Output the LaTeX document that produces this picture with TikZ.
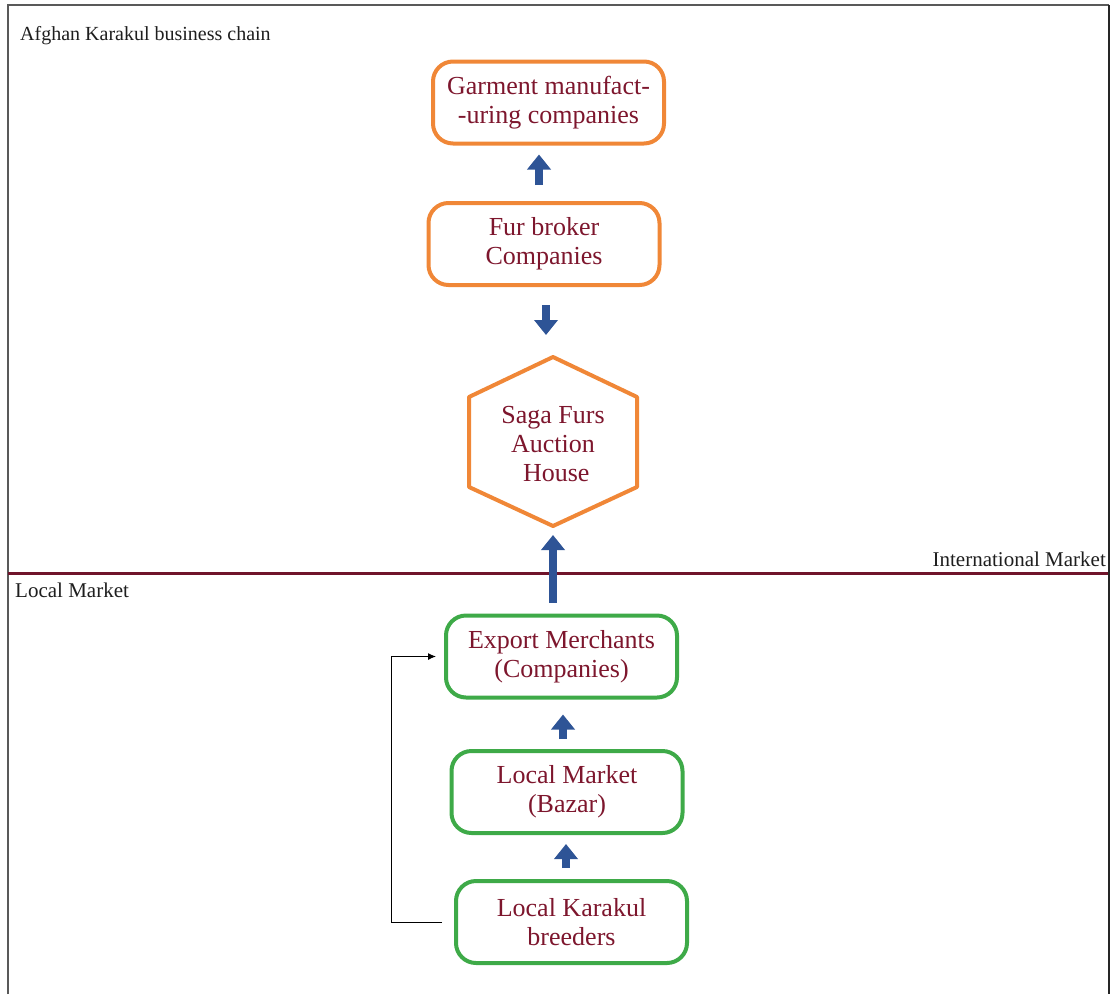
\documentclass[tikz,border=0pt]{standalone}
\usepackage{fontspec}
\setmainfont{Liberation Serif}
\usetikzlibrary{arrows.meta}
\definecolor{txtred}{RGB}{125,22,45}
\definecolor{boxorange}{RGB}{240,135,55}
\definecolor{boxgreen}{RGB}{62,170,72}
\definecolor{arrblue}{RGB}{46,84,150}
\definecolor{lineRed}{RGB}{112,20,42}
\definecolor{labelgray}{RGB}{30,30,30}
\tikzset{
  chainbox/.style={draw, rounded corners=20pt, line width=4pt, minimum width=231pt,
    minimum height=82pt, align=center, text=txtred,
    font=\fontsize{26}{29}\selectfont},
  intbox/.style={chainbox, draw=boxorange},
  locbox/.style={chainbox, draw=boxgreen},
  blockarrow/.style={draw=arrblue, line width=8.5pt,
    -{Triangle[width=23pt,length=15pt]}},
  marketlabel/.style={text=labelgray, font=\fontsize{21}{24}\selectfont, inner sep=0pt},
}
\begin{document}
\begin{tikzpicture}[x=1pt,y=-1pt]
\useasboundingbox (0,0) rectangle (1114,994);
% frame
\draw[line width=2pt, gray!70!black] (8,994) -- (8,5) -- (1109,5);
\draw[line width=2pt, black!85] (1109,5) -- (1109,994);

\node[marketlabel, anchor=base west, font=\fontsize{20}{24}\selectfont] (title) at (20,40) {Afghan Karakul business chain};

% international market
\node[intbox] (garment) at (548.5,102.5) {Garment manufact-\\-uring companies};
\node[intbox] (fur) at (544,244) {Fur broker\\Companies};

\coordinate (sagatop) at (553,357);
\coordinate (sagabot) at (553,526);
\draw[boxorange, line width=4pt, line join=round]
  (sagatop) -- (637,397) -- (637,487) -- (sagabot) -- (469,487) -- (469,397) -- cycle;
\node[align=center, text=txtred, font=\fontsize{26}{29}\selectfont] (saga) at (553,444) {Saga Furs\\Auction\\\ House};

% divider
\draw[lineRed, line width=3pt] (8,573) -- (1108,573);
\node[marketlabel, anchor=base east] (intl) at (1106,566) {International Market};
\node[marketlabel, anchor=base west] (localm) at (15,597) {Local Market};

% local market
\node[locbox] (export) at (561.5,656.5) {Export Merchants\\(Companies)};
\node[locbox] (bazar) at (567,792) {Local Market\\(Bazar)};
\node[locbox] (breed) at (571.5,922) {Local Karakul\\breeders};

% block arrows
\draw[blockarrow, shorten <=16pt, shorten >=9pt] (fur.north -| 539,0) -- (garment.south -| 539,0);
\draw[blockarrow, shorten <=18pt, shorten >=22pt] (fur.south -| 546,0) -- (sagatop -| 546,0);
\draw[blockarrow, shorten <=11pt, shorten >=9pt] (sagabot |- export.north) -- (sagabot);
\draw[blockarrow, shorten <=10pt, shorten >=15pt] (bazar.north -| 563,0) -- (export.south -| 563,0);
\draw[blockarrow, shorten <=11pt, shorten >=9pt] (breed.north -| 566,0) -- (bazar.south -| 566,0);

% thin bypass connector
\draw[black, line width=1pt, -{Latex[length=8pt,width=7pt]}]
  ([xshift=-12pt]breed.west) -- ++(-51,0) |- ([xshift=-8pt]export.west);
\end{tikzpicture}
\end{document}
